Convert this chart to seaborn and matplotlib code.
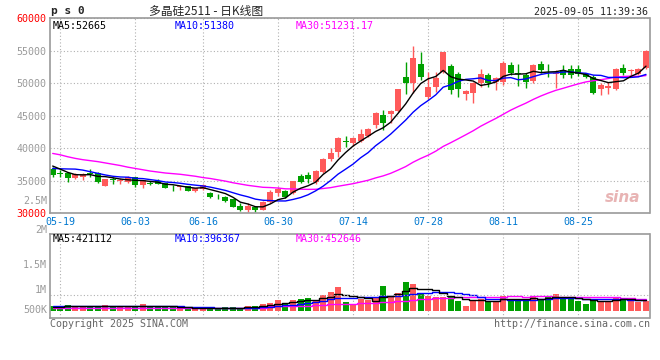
import matplotlib
matplotlib.use('Agg')
import matplotlib.pyplot as plt
import numpy as np
import pandas as pd
import seaborn as sns

sns.set_style('white')
plt.rcParams['font.family'] = ['DejaVu Sans Mono', 'Noto Sans CJK SC']

# ---- data ----
opens = [36810, 36180, 36140, 35480, 35530, 36180, 36140, 34270, 35320, 35040,
         34810, 35530, 34300, 34710, 34960, 34610, 34040, 34040, 34140, 33480,
         33680, 33120, 32660, 32510, 32150, 31180, 30510, 30970, 30510, 31790,
         33120, 33430, 33070, 35780, 35890, 34860, 36300, 38340, 39470, 41050,
         40750, 41160, 41880, 43570, 45100, 45260, 45720, 50990, 49970, 53040,
         47920, 49450, 51760, 52650, 51500, 48430, 48530, 50070, 51350, 50270,
         50220, 52780, 51600, 51250, 50380, 52940, 52200, 51500, 52120, 52170,
         52270, 51500, 50990, 49100, 49300, 49100, 52420, 51910, 51500, 52370]
closes = [35890, 36100, 35480, 35990, 36090, 36100, 34760, 35270, 35120, 35100,
          35530, 34350, 35070, 34450, 34550, 33940, 33990, 34100, 33480, 33840,
          34300, 32510, 32610, 31890, 31020, 30510, 31120, 30510, 31790, 33330,
          33740, 32450, 34960, 34760, 35270, 36500, 38340, 39260, 41620, 41000,
          41520, 42180, 42900, 45360, 43820, 45770, 49100, 50070, 53860, 50990,
          49450, 50840, 54780, 49000, 49150, 48840, 49970, 51400, 49970, 50840,
          53140, 51660, 51450, 50220, 52780, 52120, 52130, 51660, 51350, 51250,
          51500, 50990, 48580, 49810, 49610, 52270, 51660, 52010, 52270, 54980]
highs = [37170, 36650, 36240, 36140, 36140, 36760, 36300, 35320, 35630, 35370,
         35730, 35530, 35070, 34960, 35220, 34710, 34350, 34300, 34250, 33890,
         34450, 33270, 32970, 32610, 32250, 31530, 31530, 31120, 31890, 33580,
         34090, 33580, 34960, 35990, 36400, 36600, 38440, 39980, 41770, 41880,
         41770, 43000, 43050, 45510, 45870, 45870, 49200, 53290, 55750, 54830,
         51760, 51760, 54780, 52900, 51760, 48940, 50220, 52270, 51650, 51000,
         53400, 53300, 52940, 51650, 52940, 53450, 53040, 52120, 52780, 52830,
         52780, 51650, 51250, 49970, 50220, 52420, 52940, 52270, 52370, 55090]
lows = [35530, 35530, 34860, 35220, 35120, 35630, 34710, 34160, 34500, 34500,
        34710, 34090, 33840, 34350, 34450, 33890, 33480, 33630, 33430, 33220,
        33580, 32400, 32150, 31790, 30970, 30360, 30250, 30250, 30460, 31530,
        32660, 32350, 32970, 34600, 34600, 34500, 36140, 38090, 38700, 40140,
        40340, 41000, 41780, 43200, 42800, 43820, 45620, 48330, 48530, 50480,
        47560, 48630, 51510, 48380, 47920, 47410, 47000, 49450, 49450, 48940,
        49710, 51250, 49560, 49350, 50020, 51650, 50990, 49300, 50740, 50840,
        51140, 50890, 48430, 48170, 48430, 48940, 51250, 51250, 51350, 52270]
volumes = [182, 156, 221, 195, 156, 182, 182, 221, 182, 182,
           182, 182, 260, 131, 182, 131, 131, 92, 92, 92,
           92, 92, 92, 131, 131, 92, 182, 182, 260, 312,
           415, 260, 415, 454, 506, 415, 609, 738, 932, 350,
           260, 454, 415, 480, 971, 583, 700, 1113, 1036, 700,
           583, 518, 544, 544, 389, 182, 415, 454, 389, 389,
           583, 454, 389, 389, 583, 454, 583, 648, 454, 454,
           389, 260, 454, 389, 389, 544, 480, 389, 324, 389]  # thousand lots

# moving-average values before the window is full
ma5_head = [37270, 36800, 36300, 35950]
ma10_head = [36900, 36850, 36820, 36800, 36650, 36400, 36150, 35900, 35700]
ma30_head = [39210, 39000, 38700, 38450, 38250, 38100, 37950, 37750, 37550, 37350,
             37100, 36900, 36700, 36500, 36350, 36200, 36100, 36000, 35850, 35700,
             35500, 35350, 35150, 34950, 34700, 34500, 34300, 34150, 34000]
vma5_head = [150, 160, 180, 175]
vma10_head = [200, 200, 200, 200, 200, 195, 190, 185, 185]
vma30_head = [90, 90, 90, 92, 92, 92, 92, 94, 94, 94,
              95, 95, 95, 95, 95, 95, 96, 96, 96, 96,
              97, 97, 98, 98, 98, 99, 100, 100, 101]

tick_idx = [1, 11, 20, 30, 40, 50, 60, 70]
tick_labels = ['05-19', '06-03', '06-16', '06-30', '07-14', '07-28', '08-11', '08-25']
price_ticks = [30000, 35000, 40000, 45000, 50000, 55000, 60000]

RED = '#ff5a5a'
GREEN = '#00a000'
GRAY = '#9a9a9a'


def with_head(values, n, head):
    ma = pd.Series(values, dtype=float).rolling(n).mean()
    ma.iloc[:n - 1] = head
    return ma


df = pd.DataFrame({'open': opens, 'close': closes, 'high': highs, 'low': lows,
                   'vol': np.array(volumes) * 1000})
df['x'] = np.arange(len(df))
df['color'] = np.where(df['close'] >= df['open'], RED, GREEN)
df['ma5'] = with_head(closes, 5, ma5_head)
df['ma10'] = with_head(closes, 10, ma10_head)
df['ma30'] = with_head(closes, 30, ma30_head)
df['vma5'] = with_head(df['vol'], 5, np.array(vma5_head) * 1000)
df['vma10'] = with_head(df['vol'], 10, np.array(vma10_head) * 1000)
df['vma30'] = with_head(df['vol'], 30, np.array(vma30_head) * 1000)

W, H = 660, 360


def box(l, t, r, b):
    return [l / W, 1 - b / H, (r - l) / W, (b - t) / H]


fig = plt.figure(figsize=(6.6, 3.6), dpi=100)
ax = fig.add_axes(box(50.5, 18.3, 649.5, 213.3))
axv = fig.add_axes(box(50.5, 233.5, 649.5, 317.7))

xlim = (-0.29, 79.47)
fs = 7.2

# ---- price panel ----
ax.vlines(df['x'], df['low'], df['high'], colors=df['color'], lw=1)
body = (df['close'] - df['open']).abs().clip(lower=90)
ax.bar(df['x'], body, bottom=df[['open', 'close']].min(axis=1), width=0.8,
       color=df['color'], linewidth=0)
sns.lineplot(data=df, x='x', y='ma30', color='#ff00ff', lw=1, ax=ax)
sns.lineplot(data=df, x='x', y='ma10', color='#0000ff', lw=1, ax=ax)
sns.lineplot(data=df, x='x', y='ma5', color='black', lw=1, ax=ax)

ax.set_xlim(*xlim)
ax.set_ylim(30000, 60000)
ax.set_yticks(price_ticks)
ax.set_yticklabels([str(t) for t in price_ticks], fontsize=fs)
for lab, t in zip(ax.get_yticklabels(), price_ticks):
    lab.set_color('#ff0000' if t in (30000, 60000) else GRAY)
ax.set_xticks(tick_idx)
ax.set_xticklabels(tick_labels, fontsize=fs, color='#0078d0')
ax.tick_params(length=0, pad=3)
ax.set(xlabel='', ylabel='')
ax.grid(True, color='#b0b0b0', lw=0.8, ls=(0, (1, 2)))

ax.text(0.004, 0.985, 'MA5:52665', transform=ax.transAxes, fontsize=fs, va='top', color='black')
ax.text(0.207, 0.985, 'MA10:51380', transform=ax.transAxes, fontsize=fs, va='top', color='#0000ff')
ax.text(0.41, 0.985, 'MA30:51231.17', transform=ax.transAxes, fontsize=fs, va='top', color='#ff00ff')
ax.text(0.985, 0.04, 'sina', transform=ax.transAxes, fontsize=11, ha='right', va='bottom',
        color='#e8b4b4', style='italic', weight='bold', family='DejaVu Sans')

# ---- volume panel ----
axv.bar(df['x'], df['vol'], width=0.8, color=df['color'], linewidth=0)
axv.plot(df['x'], df['vma30'], color='#ff00ff', lw=1, drawstyle='steps-mid')
axv.plot(df['x'], df['vma10'], color='#0000ff', lw=1, drawstyle='steps-mid')
axv.plot(df['x'], df['vma5'], color='black', lw=1, drawstyle='steps-mid')
axv.set_xlim(*xlim)
per_px = 38800
axv.set_ylim(-7 * per_px, (310.7 - 233.5) * per_px)
axv.set_xticks(tick_idx)
axv.set_xticklabels([])
axv.set_yticks([])
axv.tick_params(length=0)
axv.grid(True, axis='x', color='#b0b0b0', lw=0.8, ls=(0, (1, 2)))
axv.axhline(15.7 * per_px, color='#b0b0b0', lw=0.8, ls=(0, (1, 2)))
# legend line sits so that its top is just cut by the panel frame, as in the original
for xf, txt, col in [(0.004, 'MA5:421112', 'black'), (0.207, 'MA10:396367', '#0000ff'),
                     (0.41, 'MA30:452646', '#ff00ff')]:
    axv.text(xf, 0.935, txt, transform=axv.transAxes, fontsize=fs, va='center',
             color=col, clip_on=True)

for a in (ax, axv):
    for s in a.spines.values():
        s.set_color(GRAY)
        s.set_linewidth(1.2)

# volume axis labels (sit in the left margin)
for label, y in [('2.5M', 201), ('2M', 230), ('1.5M', 265), ('1M', 290), ('500K', 310)]:
    fig.text(47 / W, 1 - y / H, label, fontsize=fs, color=GRAY, ha='right', va='center')

# ---- header / footer ----
fig.text(51 / W, 1 - 11 / H, 'p s 0', fontsize=8, weight='bold', va='center')
fig.text(206 / W, 1 - 11 / H, '多晶硅2511 - 日K线图', fontsize=8.5, ha='center', va='center',
         family=['Noto Sans CJK SC', 'DejaVu Sans'])
fig.text(648 / W, 1 - 12 / H, '2025-09-05 11:39:36', fontsize=fs, ha='right', va='center')
fig.text(50 / W, 1 - 324 / H, 'Copyright 2025 SINA.COM', fontsize=fs, color='#666666', va='center')
fig.text(650 / W, 1 - 324 / H, 'http://finance.sina.com.cn', fontsize=fs, color='#666666',
         ha='right', va='center')

fig.savefig('out.png', dpi=100)
